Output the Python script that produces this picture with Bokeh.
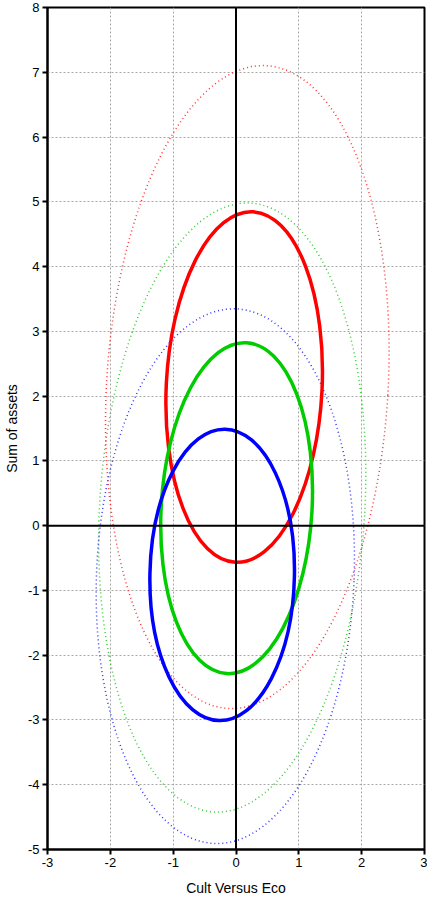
from bokeh.plotting import figure
from bokeh.models import Range1d, FixedTicker, Span
from bokeh.embed import file_html
from bokeh.resources import INLINE

# Ellipse estimates (data units)
names = ["red", "green", "blue"]
colors = ["#ff0000", "#00cc00", "#0000ff"]
dot_colors = ["#ff3333", "#33cc33", "#3333ff"]

solid_cx = [0.13, 0.01, -0.22]
solid_cy = [2.14, 0.27, -0.76]
solid_w = [2.48, 2.40, 2.30]
solid_h = [5.42, 5.12, 4.50]
solid_angle = [-0.05, -0.06, -0.02]

dot_cx = [0.18, -0.06, -0.17]
dot_cy = [2.14, 0.28, -0.78]
dot_w = [4.48, 4.22, 4.10]
dot_h = [9.94, 9.42, 8.26]
dot_angle = [-0.06, -0.06, -0.04]

x_ticks = [-3, -2, -1, 0, 1, 2, 3]
x_labels = ["-3", "-2", "-1", "0", "1", "2", "3"]
y_ticks = [-5, -4, -3, -2, -1, 0, 1, 2, 3, 4, 5, 6, 7, 8]
y_labels = ["-5", "-4", "-3", "-2", "-1", "0", "1", "2", "3", "4", "5", "6", "7", "8"]

FONT = "Liberation Sans"

p = figure(width=427, height=899, output_backend="svg", toolbar_location=None,
           x_range=Range1d(-3, 3), y_range=Range1d(-5, 8),
           min_border_left=41, min_border_right=3, min_border_top=7, min_border_bottom=50)
p.background_fill_color = "white"
p.border_fill_color = "white"
p.outline_line_color = "black"
p.outline_line_width = 2

for ax, ticks, labels in ((p.xaxis[0], x_ticks, x_labels), (p.yaxis[0], y_ticks, y_labels)):
    ax.ticker = FixedTicker(ticks=ticks)
    ax.major_label_overrides = {t: l for t, l in zip(ticks, labels)}
    ax.minor_tick_line_color = None
    ax.major_tick_out = 5
    ax.major_tick_in = 0
    ax.major_tick_line_width = 2
    ax.major_tick_line_color = "black"
    ax.axis_line_color = "black"
    ax.axis_line_width = 2
    ax.major_label_text_font = FONT
    ax.major_label_text_font_size = "13px"
    ax.major_label_text_color = "black"
    ax.axis_label_text_font = FONT
    ax.axis_label_text_font_size = "14px"
    ax.axis_label_text_font_style = "normal"
    ax.axis_label_text_color = "black"
    ax.major_label_standoff = 3

p.xaxis.axis_label = "Cult Versus Eco"
p.yaxis.axis_label = "Sum of assets"
p.xaxis.axis_label_standoff = 10
p.yaxis.axis_label_standoff = 5

for g in (p.xgrid[0], p.ygrid[0]):
    g.grid_line_color = "#a8a8a8"
    g.grid_line_dash = "2 2"
    g.grid_line_width = 1
p.xgrid.ticker = FixedTicker(ticks=x_ticks)
p.ygrid.ticker = FixedTicker(ticks=y_ticks)

p.add_layout(Span(location=0, dimension="height", line_color="black", line_width=2))
p.add_layout(Span(location=0, dimension="width", line_color="black", line_width=2))

for i in range(3):
    p.ellipse(x=[dot_cx[i]], y=[dot_cy[i]], width=[dot_w[i]], height=[dot_h[i]],
              angle=[dot_angle[i]], fill_color=None, line_color=dot_colors[i],
              line_width=1.5, line_dash="1 3")

for i in range(3):
    p.ellipse(x=[solid_cx[i]], y=[solid_cy[i]], width=[solid_w[i]], height=[solid_h[i]],
              angle=[solid_angle[i]], fill_color=None, line_color=colors[i],
              line_width=3.5)

open("out.html", "w").write(file_html(p, INLINE))
